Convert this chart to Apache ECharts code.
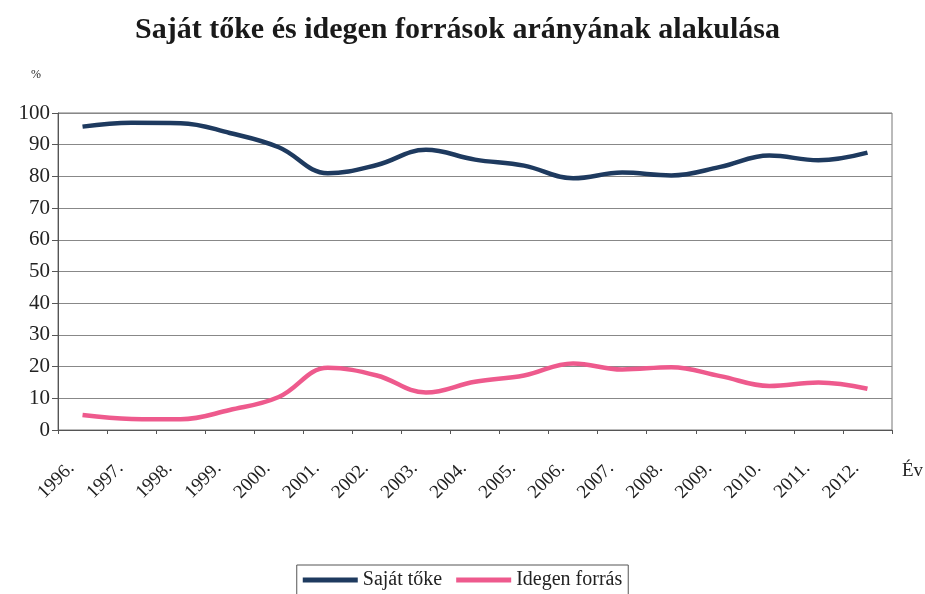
<!DOCTYPE html>
<html>
<head>
<meta charset="utf-8">
<script src="https://cdn.jsdelivr.net/npm/echarts@6/dist/echarts.min.js"></script>
<style>
  html, body { margin: 0; padding: 0; background: #fff; }
  #chart { width: 925px; height: 594px; }
</style>
</head>
<body>
<div id="chart"></div>
<script>
// évek (kategóriák)
var years = ['1996.', '1997.', '1998.', '1999.', '2000.', '2001.', '2002.', '2003.', '2004.',
  '2005.', '2006.', '2007.', '2008.', '2009.', '2010.', '2011.', '2012.'];
// saját tőke aránya (%)
var sajatToke = [95.7, 96.9, 96.8, 93.7, 89.2, 81, 83.6, 88.4, 85.3, 83.4, 79.4, 81.2, 80.3, 83, 86.6, 85.1, 87.5];
// idegen források aránya (%)
var idegenForras = [4.7, 3.5, 3.4, 6.3, 10.4, 19.6, 17.2, 11.8, 15.2, 17.2, 21, 19.1, 19.8, 17, 13.9, 15, 13];

var serif = '"Liberation Serif", "DejaVu Serif", serif';
var chart = echarts.init(document.getElementById('chart'));

var option = {
  backgroundColor: '#fff',
  animation: false,
  title: {
    text: 'Saját tőke és idegen források arányának alakulása',
    left: 130,
    top: 10,
    textStyle: { fontFamily: serif, fontSize: 30, fontWeight: 'bold', color: '#1a1a1a' }
  },
  legend: {
    left: 'center',
    top: 565,
    padding: [5, 6, 10, 6],
    borderColor: '#555',
    borderWidth: 1,
    icon: 'rect',
    itemWidth: 55,
    itemHeight: 5,
    itemGap: 14,
    textStyle: { fontFamily: serif, fontSize: 20, color: '#222' },
    data: ['Saját tőke', 'Idegen forrás']
  },
  grid: {
    left: 58,
    right: 33,
    top: 113,
    bottom: 164,
    outerBoundsMode: 'none',
    show: true,
    borderColor: '#777',
    borderWidth: 1
  },
  xAxis: {
    type: 'category',
    data: years,
    boundaryGap: true,
    name: 'Év',
    nameLocation: 'end',
    nameGap: 10,
    nameTextStyle: {
      fontFamily: serif, fontSize: 19, color: '#222',
      verticalAlign: 'top', align: 'left', padding: [32, 0, 0, 0]
    },
    axisLine: { lineStyle: { color: '#555', width: 1 } },
    axisTick: { show: true, length: 4, lineStyle: { color: '#555' } },
    axisLabel: {
      rotate: 45,
      margin: 24,
      interval: 0,
      padding: [0, 16, 0, 0],
      fontFamily: serif, fontSize: 19, color: '#222'
    }
  },
  yAxis: {
    type: 'value',
    min: 0,
    max: 100,
    interval: 10,
    name: '%',
    nameLocation: 'end',
    nameGap: 32,
    nameTextStyle: { fontFamily: serif, fontSize: 12, color: '#222', padding: [0, 44, 0, 0] },
    axisLine: { show: true, lineStyle: { color: '#555', width: 1 } },
    axisTick: { show: true, length: 6, lineStyle: { color: '#555' } },
    axisLabel: { margin: 8, fontFamily: serif, fontSize: 21, color: '#222' },
    splitLine: { show: true, lineStyle: { color: '#888', width: 1 } }
  },
  series: [
    {
      name: 'Saját tőke',
      type: 'line',
      data: sajatToke,
      smooth: 0.4,
      symbol: 'none',
      color: '#1e3a5f',
      lineStyle: { width: 4.5, color: '#1e3a5f' }
    },
    {
      name: 'Idegen forrás',
      type: 'line',
      data: idegenForras,
      smooth: 0.4,
      symbol: 'none',
      color: '#ee5a8d',
      lineStyle: { width: 4.5, color: '#ee5a8d' }
    }
  ]
};

chart.setOption(option);
</script>
</body>
</html>
